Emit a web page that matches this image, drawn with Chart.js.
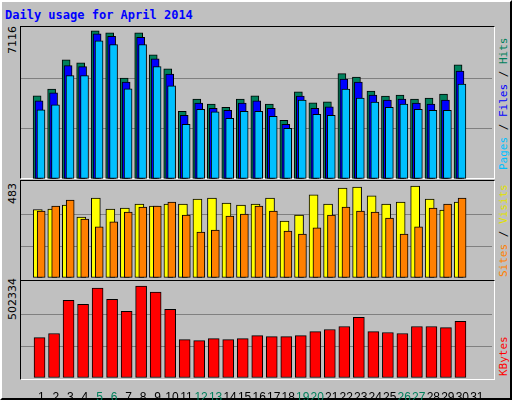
<!DOCTYPE html>
<html><head><meta charset="utf-8">
<script src="https://cdn.jsdelivr.net/npm/chart.js@4"></script>
<style>
body{margin:0;background:#fff}
#wrap{position:absolute;left:0;top:0;width:508px;height:396px;background:#c0c0c0;border:2px solid #000;border-top-color:#fff;border-left-color:#fff;outline:1px solid #808080}
.panel{position:absolute;border:1px solid #fff;border-top-color:#000;border-left-color:#000;box-sizing:border-box}
canvas{position:absolute}
.t{position:absolute;font-family:"DejaVu Sans Mono",monospace;white-space:nowrap}
.rot{transform-origin:0 0;transform:rotate(-90deg)}
</style></head><body>
<div id="wrap"></div>
<script>
const days=[1,2,3,4,5,6,7,8,9,10,11,12,13,14,15,16,17,18,19,20,21,22,23,24,25,26,27,28,29,30];
const dayLabels=[1,2,3,4,5,6,7,8,9,10,11,12,13,14,15,16,17,18,19,20,21,22,23,24,25,26,27,28,29,30,31];
const weekend=[5,6,12,13,19,20,26,27];
const hits=[3921,4237,5613,5470,6988,6893,4759,6893,5850,5186,3194,3763,3526,3383,3763,3921,3526,2767,4111,3589,3636,4964,4806,4142,3905,3953,3763,3810,4000,5375];
const files=[3684,4063,5344,5296,6846,6719,4569,6672,5660,4949,3004,3573,3336,3241,3573,3684,3336,2577,3905,3336,3399,4711,4569,3953,3715,3763,3573,3526,3715,5091];
const pages=[3257,3494,4870,4870,6514,6340,4253,6340,5296,4395,2577,3289,3162,2862,3194,3194,2956,2387,3715,3051,3004,4237,3810,3620,3383,3526,3289,3241,3241,4474];
const visits=[344,347,367,307,402,347,352,372,362,372,372,397,402,377,367,372,402,287,317,418,372,453,458,413,372,382,463,397,342,382];
const sites=[337,362,392,297,257,282,332,357,362,382,317,231,241,312,322,362,337,236,221,252,317,357,337,332,302,221,257,352,372,402];
const kbytes=[211500,232700,407000,386000,470600,412000,349000,481000,449000,359600,201000,195600,206000,201000,206000,222000,216800,216800,222000,243000,253800,269700,317000,243000,238000,232700,269700,269700,264000,296000];
const maxHits=7116, maxSites=483, maxKB=502334;

const wrap=document.getElementById('wrap');
function el(cls,css,html){const d=document.createElement('div');d.className=cls;d.style.cssText=css;if(html!==undefined)d.innerHTML=html;wrap.appendChild(d);return d;}
el('t','left:3px;top:6px;font-size:12px;font-weight:bold;color:#0000ff','Daily usage for April 2014');

const panels=[[18,24,153],[18,178,101],[18,278,100]];
panels.forEach(p=>el('panel',`left:${p[0]}px;top:${p[1]}px;width:475px;height:${p[2]}px`));

function mk(top,h,datasets,max,withX){
  const c=document.createElement('canvas');
  c.width=471;c.height=h;c.style.left='19px';c.style.top=top+'px';
  wrap.appendChild(c);
  new Chart(c,{type:'bar',data:{datasets},options:{
    responsive:false,animation:false,devicePixelRatio:1,
    layout:{padding:0},
    plugins:{legend:{display:false},tooltip:{enabled:false}},
    scales:{
      x:{type:'linear',min:0.247,max:31.65,display:withX,
        grid:{display:false},border:{display:false},
        afterBuildTicks:s=>{s.ticks=dayLabels.map(v=>({value:v+0.13}));},
        afterFit:s=>{s.height=withX?22:0;},
        ticks:{autoSkip:false,maxRotation:0,padding:4,
          font:{family:'Liberation Sans',size:12},
          callback:(v)=>String(Math.round(v-0.13)),
          color:ctx=>weekend.includes(Math.round(ctx.tick.value-0.13))?'#00805c':'#000'}},
      y:{min:0,max:max,
        afterBuildTicks:s=>{s.ticks=[0,max/3,2*max/3,max].map(v=>({value:v}));},
        afterFit:s=>{s.width=0;},
        ticks:{display:false},border:{display:false},
        grid:{color:ctx=>(ctx.index===1||ctx.index===2)?'#808080':'rgba(0,0,0,0)',lineWidth:1,drawTicks:false}}
    }}});
}
function ds(vals,off,color,w,order){
  return {data:days.map((d,i)=>({x:d+off/15,y:vals[i]})),backgroundColor:color,borderColor:'#000',borderWidth:1,barThickness:w,order:order,grouped:false,borderSkipped:false};
}
mk(26,151,[ds(hits,-2.5,'#00805c',8,3),ds(files,-0.5,'#0000ff',8,2),ds(pages,1.5,'#00c0ff',8,1)],maxHits,false);
mk(180,96,[ds(visits,-1.8,'#ffff00',9,2),ds(sites,1.7,'#ff8000',8,1)],maxSites,false);
mk(280,118,[ds(kbytes,0,'#ff0000',11,1)],maxKB,true);

el('t rot','left:4px;top:52px;font-family:DejaVu Sans;font-size:11px;color:#000',String(maxHits));
el('t rot','left:4px;top:202px;font-family:DejaVu Sans;font-size:11px;color:#000',String(maxSites));
el('t rot','left:4px;top:318px;font-family:DejaVu Sans;font-size:11px;color:#000',String(maxKB));
el('t rot','left:495px;top:168px;font-size:11px','<span style="color:#00c0ff">Pages</span><span style="color:#000"> / </span><span style="color:#0000ff">Files</span><span style="color:#000"> / </span><span style="color:#00805c">Hits</span>');
el('t rot','left:495px;top:275px;font-size:11px','<span style="color:#ff8000">Sites</span><span style="color:#000"> / </span><span style="color:#e0e000">Visits</span>');
el('t rot','left:495px;top:374px;font-size:11px;color:#ff0000','KBytes');
</script></body></html>
